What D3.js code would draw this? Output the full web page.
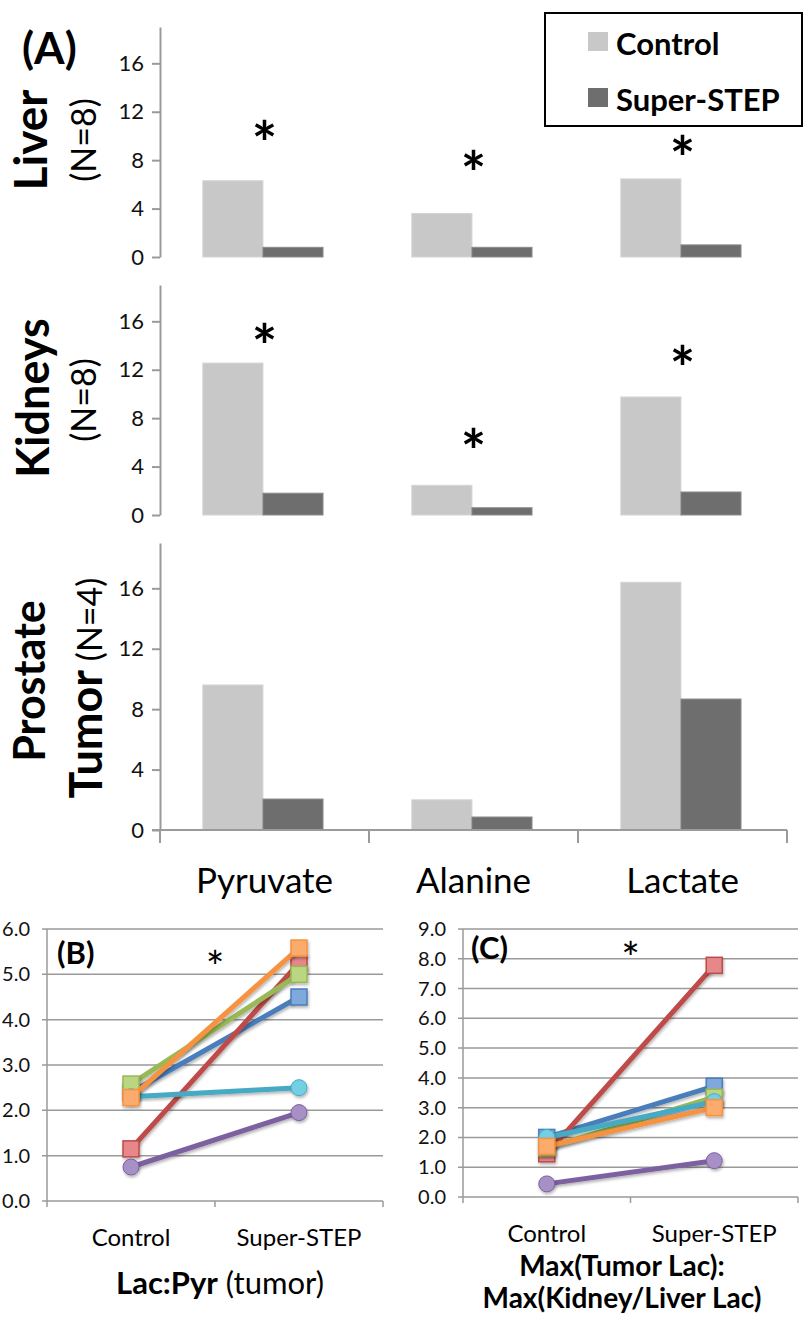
<!DOCTYPE html>
<html>
<head>
<meta charset="utf-8">
<script src="https://cdn.jsdelivr.net/npm/d3@7"></script>
<style>
body { margin:0; background:#fff; }
svg { display:block; font-family: Lato, "Open Sans", sans-serif; }
</style>
</head>
<body>
<svg id="chart"></svg>
<script>
// top panel (A) data
var metabolites = ["Pyruvate", "Alanine", "Lactate"]
var groups = ["Control", "Super-STEP"]
var groupColors = ["#c8c8c8", "#6e6e6e"]

var liverControl = [6.3, 3.6, 6.45]
var liverStep = [0.8, 0.8, 1.0]
var kidneyControl = [12.55, 2.45, 9.75]
var kidneyStep = [1.8, 0.6, 1.9]
var tumorControl = [9.6, 2.0, 16.4]
var tumorStep = [2.05, 0.86, 8.67]
// height (in y units) where the significance star sits, null = none
var liverStars = [10.5, 8.0, 9.25]
var kidneyStars = [15.0, 6.4, 13.2]
var tumorStars = [null, null, null]
var barTicks = [0, 4, 8, 12, 16]

// bottom panels (B) and (C)
var lineSeries = ["blue", "red", "green", "purple", "cyan", "orange"]
var lineColors = ["#4a7ebb", "#be4b48", "#98b954", "#7d60a0", "#46aac5", "#f69240"]
var markerFills = ["#7fa8dc", "#e6888a", "#bad680", "#a790c6", "#72cfe4", "#fbac6c"]
var markerShapes = ["square", "square", "square", "circle", "circle", "square"]
var lacPyrControl = [2.4, 1.15, 2.58, 0.75, 2.3, 2.28]
var lacPyrStep = [4.5, 5.25, 5.0, 1.95, 2.5, 5.58]
var maxLacControl = [2.0, 1.45, 1.65, 0.44, 2.0, 1.7]
var maxLacStep = [3.72, 7.78, 3.35, 1.22, 3.2, 3.0]
var lacPyrTicks = [0, 1, 2, 3, 4, 5, 6]
var maxLacTicks = [0, 1, 2, 3, 4, 5, 6, 7, 8, 9]

var width = 804
var height = 1317

var svg = d3.select("#chart")
    .attr("width", width)
    .attr("height", height)

var axisGray = "#9a9a9a"

var x0 = d3.scaleBand()
    .domain(metabolites)
    .range([160, 787])

var x1 = d3.scaleBand()
    .domain(groups)
    .range([x0.bandwidth() * 0.205, x0.bandwidth() * 0.78])

var drawBarPanel = function(control, step, stars, top, bottom, lastRow) {
    var y = d3.scaleLinear().domain([0, 19]).range([bottom, top])
    var g = svg.append("g")

    var rows = metabolites.map(function(m, i) {
        return { name: m, values: [control[i], step[i]], star: stars[i] }
    })

    var cat = g.selectAll(".cat")
        .data(rows)
        .enter()
        .append("g")
        .attr("transform", function(d) { return "translate(" + x0(d.name) + ",0)" })

    cat.selectAll("rect")
        .data(function(d) { return d.values })
        .enter()
        .append("rect")
        .attr("x", function(v, i) { return x1(groups[i]) })
        .attr("y", function(v) { return y(v) })
        .attr("width", x1.bandwidth())
        .attr("height", function(v) { return y(0) - y(v) })
        .attr("fill", function(v, i) { return groupColors[i] })
        .attr("stroke", function(v, i) { return i == 1 ? "#8a8a8a" : "#d4d4d4" })
        .attr("stroke-width", 1)

    cat.filter(function(d) { return d.star != null })
        .append("text")
        .attr("x", x0.bandwidth() / 2)
        .attr("y", function(d) { return y(d.star) + 35 })
        .attr("text-anchor", "middle")
        .attr("font-size", 60)
        .attr("font-weight", "bold")
        .text("*")

    var yAxis = d3.axisLeft(y)
        .tickValues(barTicks)
        .tickSize(8)
        .tickSizeOuter(0)
        .tickPadding(8)

    var ax = g.append("g")
        .attr("transform", "translate(160,0)")
        .call(yAxis)
    ax.select(".domain").attr("stroke", axisGray).attr("stroke-width", 2)
    ax.selectAll(".tick line").attr("stroke", axisGray).attr("stroke-width", 2)
    ax.selectAll(".tick text")
        .attr("font-size", 22)
        .attr("font-family", "Lato, sans-serif")
        .attr("fill", "#111")

    if (lastRow) {
        g.append("line")
            .attr("x1", 152).attr("x2", x0.range()[1])
            .attr("y1", bottom).attr("y2", bottom)
            .attr("stroke", axisGray).attr("stroke-width", 2)
        var edges = metabolites.map(function(m) { return x0(m) }).concat([x0.range()[1]])
        g.selectAll(".xtick")
            .data(edges)
            .enter()
            .append("line")
            .attr("x1", function(d) { return d }).attr("x2", function(d) { return d })
            .attr("y1", bottom).attr("y2", bottom + 13)
            .attr("stroke", axisGray).attr("stroke-width", 2)
        g.selectAll(".xlabel")
            .data(metabolites)
            .enter()
            .append("text")
            .attr("x", function(d) { return x0(d) + x0.bandwidth() / 2 })
            .attr("y", bottom + 63)
            .attr("text-anchor", "middle")
            .attr("font-size", 35)
            .text(function(d) { return d })
    }
}

drawBarPanel(liverControl, liverStep, liverStars, 27, 257, false)
drawBarPanel(kidneyControl, kidneyStep, kidneyStars, 285, 515, false)
drawBarPanel(tumorControl, tumorStep, tumorStars, 543, 830, true)

// row labels
var rowLabel = function(x, y, parts) {
    var t = svg.append("text")
        .attr("transform", "translate(" + x + "," + y + ") rotate(-90)")
        .attr("text-anchor", "middle")
    parts.forEach(function(p) {
        t.append("tspan")
            .attr("font-size", p.size)
            .attr("font-weight", p.bold ? "bold" : "normal")
            .text(p.text)
    })
}
rowLabel(47, 140, [{ text: "Liver", size: 46, bold: true }])
rowLabel(96, 140, [{ text: "(N=8)", size: 34 }])
rowLabel(49, 398, [{ text: "Kidneys", size: 45, bold: true }])
rowLabel(96, 400, [{ text: "(N=8)", size: 34 }])
rowLabel(45, 681, [{ text: "Prostate", size: 43, bold: true }])
rowLabel(102, 688, [{ text: "Tumor", size: 45, bold: true }, { text: " (N=4)", size: 34 }])

svg.append("text")
    .attr("x", 22).attr("y", 64)
    .attr("font-size", 44)
    .attr("font-weight", "bold")
    .text("(A)")

// legend
var legend = svg.append("g")
legend.append("rect")
    .attr("x", 545).attr("y", 13)
    .attr("width", 257).attr("height", 113)
    .attr("fill", "#fff")
    .attr("stroke", "#000")
    .attr("stroke-width", 2)
groups.forEach(function(gName, i) {
    legend.append("rect")
        .attr("x", 588).attr("y", 32 + i * 56)
        .attr("width", 20).attr("height", 19)
        .attr("fill", groupColors[i])
    legend.append("text")
        .attr("x", 616).attr("y", 55 + i * 56)
        .attr("font-size", 31)
        .attr("font-weight", "bold")
        .text(gName)
})

// drop shadow for markers
var defs = svg.append("defs")
var filt = defs.append("filter").attr("id", "shadow")
    .attr("x", "-50%").attr("y", "-50%").attr("width", "200%").attr("height", "200%")
filt.append("feDropShadow")
    .attr("dx", 1).attr("dy", 2).attr("stdDeviation", 1.5)
    .attr("flood-color", "#000").attr("flood-opacity", 0.3)

var drawLinePanel = function(opts) {
    var x = d3.scaleBand().domain(groups).range([opts.left, opts.right])
    var y = d3.scaleLinear().domain([0, d3.max(opts.ticks)]).range([opts.bottom, opts.top])
    var g = svg.append("g")

    g.selectAll(".grid")
        .data(opts.ticks)
        .enter()
        .append("line")
        .attr("x1", opts.left - 5).attr("x2", opts.right)
        .attr("y1", function(d) { return y(d) }).attr("y2", function(d) { return y(d) })
        .attr("stroke", axisGray).attr("stroke-width", 1.5)

    g.selectAll(".ylabel")
        .data(opts.ticks)
        .enter()
        .append("text")
        .attr("x", opts.left - 17)
        .attr("y", function(d) { return y(d) + 7 })
        .attr("text-anchor", "end")
        .attr("font-size", 20)
        .attr("fill", "#111")
        .text(function(d) { return d3.format(".1f")(d) })

    g.append("line")
        .attr("x1", opts.left).attr("x2", opts.left)
        .attr("y1", opts.top).attr("y2", opts.bottom + 6)
        .attr("stroke", axisGray).attr("stroke-width", 1.5)
    g.selectAll(".xtick")
        .data([x(groups[1]), opts.right])
        .enter()
        .append("line")
        .attr("x1", function(d) { return d }).attr("x2", function(d) { return d })
        .attr("y1", opts.bottom).attr("y2", opts.bottom + 6)
        .attr("stroke", axisGray).attr("stroke-width", 1.5)

    g.selectAll(".xlabel")
        .data(groups)
        .enter()
        .append("text")
        .attr("x", function(d) { return x(d) + x.bandwidth() / 2 })
        .attr("y", opts.bottom + 45)
        .attr("text-anchor", "middle")
        .attr("font-size", 24)
        .text(function(d) { return d })

    var rows = lineSeries.map(function(s, i) {
        return { name: s, values: [opts.control[i], opts.step[i]], i: i }
    })
    var cx = function(k) { return x(groups[k]) + x.bandwidth() / 2 }

    var series = g.selectAll(".series")
        .data(rows)
        .enter()
        .append("g")

    series.append("line")
        .attr("x1", cx(0)).attr("x2", cx(1))
        .attr("y1", function(d) { return y(d.values[0]) })
        .attr("y2", function(d) { return y(d.values[1]) })
        .attr("stroke", function(d) { return lineColors[d.i] })
        .attr("stroke-width", 5)
        .attr("filter", "url(#shadow)")

    series.each(function(d) {
        var s = d3.select(this)
        d.values.forEach(function(v, k) {
            if (markerShapes[d.i] == "circle") {
                s.append("circle")
                    .attr("cx", cx(k)).attr("cy", y(v)).attr("r", 8)
                    .attr("fill", markerFills[d.i])
                    .attr("stroke", lineColors[d.i]).attr("stroke-width", 1)
                    .attr("filter", "url(#shadow)")
            } else {
                s.append("rect")
                    .attr("x", cx(k) - 8).attr("y", y(v) - 8)
                    .attr("width", 16).attr("height", 16)
                    .attr("fill", markerFills[d.i])
                    .attr("stroke", lineColors[d.i]).attr("stroke-width", 1.5)
                    .attr("filter", "url(#shadow)")
            }
        })
    })

    g.append("text")
        .attr("x", opts.left + opts.tagDx).attr("y", opts.tagY)
        .attr("font-size", 31)
        .attr("font-weight", "bold")
        .text(opts.tag)

    g.append("text")
        .attr("x", x(groups[1])).attr("y", opts.starY)
        .attr("text-anchor", "middle")
        .attr("font-size", 44)
        .text("*")

    opts.title.forEach(function(line, j) {
        var t = g.append("text")
            .attr("x", opts.titleX).attr("y", opts.titleY + j * 32)
            .attr("text-anchor", "middle")
            .attr("font-size", opts.titleSize)
        line.forEach(function(p) {
            t.append("tspan").attr("font-weight", p.bold ? "bold" : "normal").text(p.text)
        })
    })
}

drawLinePanel({
    left: 47, right: 383, top: 929, bottom: 1201,
    ticks: lacPyrTicks, control: lacPyrControl, step: lacPyrStep,
    tag: "(B)", tagDx: 10, tagY: 964, starY: 983,
    title: [[{ text: "Lac:Pyr", bold: true }, { text: " (tumor)" }]],
    titleX: 220, titleY: 1294, titleSize: 31
})

drawLinePanel({
    left: 463, right: 798, top: 929, bottom: 1197,
    ticks: maxLacTicks, control: maxLacControl, step: maxLacStep,
    tag: "(C)", tagDx: 8, tagY: 959, starY: 974,
    title: [[{ text: "Max(Tumor Lac):", bold: true }], [{ text: "Max(Kidney/Liver Lac)", bold: true }]],
    titleX: 622, titleY: 1276, titleSize: 28
})
</script>
</body>
</html>
